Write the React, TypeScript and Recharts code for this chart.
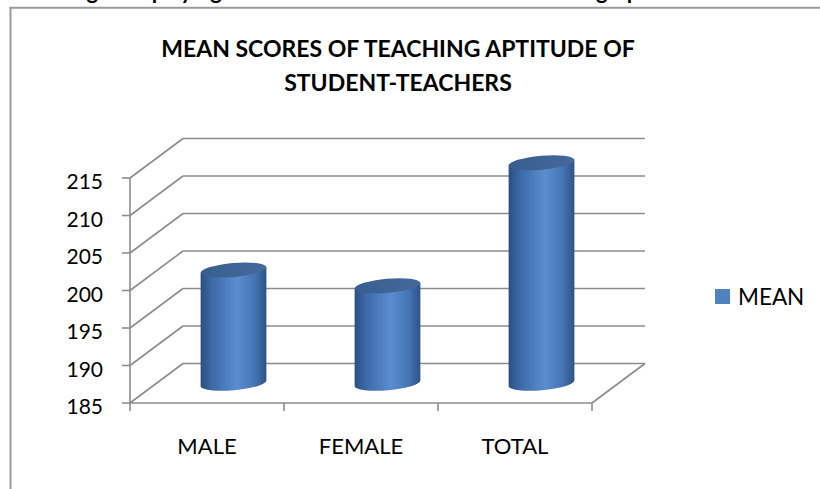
import React from "react";
import { BarChart, Bar, XAxis, YAxis, CartesianGrid, Legend } from "recharts";

const categories = ["MALE", "FEMALE", "TOTAL"];
const meanValues = [200.1, 198.0, 214.4];
const yTicks = [185, 190, 195, 200, 205, 210, 215];
const seriesName = "MEAN";
const titleLines = ["MEAN SCORES OF TEACHING APTITUDE OF", "STUDENT-TEACHERS"];

const data = categories.map((c, i) => ({ name: c, mean: meanValues[i] }));

const W = 820;
const H = 489;
const PLOT_L = 130;
const PLOT_R = 592;
const DX = 53;
const DY = -39.5;
const GRID = "#8c8c8c";
const FONT = "Lato, 'Open Sans', sans-serif";
const BAND = (PLOT_R - PLOT_L) / categories.length;

const GridLine = (props: any) => {
  const { x1, y1, x2 } = props;
  return (
    <g>
      <line x1={x1} y1={y1} x2={x1 + DX} y2={y1 + DY} stroke={GRID} strokeWidth={1.6} />
      <line x1={x1 + DX} y1={y1 + DY} x2={x2 + DX} y2={y1 + DY} stroke={GRID} strokeWidth={1.6} />
    </g>
  );
};

const YTick = (props: any) => {
  const { x, y, payload } = props;
  return (
    <g>
      <line x1={x - 8} y1={y} x2={x} y2={y} stroke={GRID} strokeWidth={1.6} />
      <text x={x - 27} y={y + 2.5} textAnchor="end" dominantBaseline="central" fontFamily={FONT} fontSize={21} fill="#000">
        {payload.value}
      </text>
    </g>
  );
};

const XTick = (props: any) => {
  const { x, y, payload, index } = props;
  const last = index === categories.length - 1;
  return (
    <g>
      <line x1={x - BAND / 2} y1={y} x2={x - BAND / 2} y2={y + 8} stroke={GRID} strokeWidth={1.6} />
      {last && (
        <>
          <line x1={x + BAND / 2} y1={y} x2={x + BAND / 2} y2={y + 8} stroke={GRID} strokeWidth={1.6} />
          <line x1={x + BAND / 2} y1={y} x2={x + BAND / 2 + DX} y2={y + DY} stroke={GRID} strokeWidth={1.6} />
        </>
      )}
      <text x={x} y={y + 42} textAnchor="middle" dominantBaseline="central" fontFamily={FONT} fontSize={22} fill="#000">
        {payload.value}
      </text>
    </g>
  );
};

const Cylinder = (props: any) => {
  const { x, y, width, height } = props;
  const cx = x + width / 2 + DX / 2;
  const top = y + DY / 2;
  const bot = y + height + DY / 2;
  const rx = width / 2;
  const ry = 7;
  const th = (5 * Math.PI) / 180;
  const ex = rx * Math.cos(th);
  const ey = rx * Math.sin(th);
  const body = `M ${cx - ex} ${top + ey} L ${cx - ex} ${bot + ey} A ${rx} ${ry} -5 0 0 ${cx + ex} ${bot - ey} L ${cx + ex} ${top - ey} Z`;
  return (
    <g>
      <path d={body} fill="url(#cylBody)" />
      <ellipse cx={cx} cy={top} rx={rx} ry={ry} fill="url(#cylTop)" transform={`rotate(-5 ${cx} ${top})`} />
    </g>
  );
};

const LegendContent = () => (
  <div style={{ display: "flex", alignItems: "center", fontFamily: FONT, fontSize: 22.5, color: "#000" }}>
    <div style={{ width: 15, height: 15, background: "#4f81bd", marginRight: 8 }} />
    <span>{seriesName}</span>
  </div>
);

export default function App() {
  return (
    <div style={{ position: "absolute", left: 0, top: 0, width: W, height: H, background: "#fff", overflow: "hidden" }}>
      <BarChart
        width={W}
        height={H}
        data={data}
        margin={{ top: 178, right: 228, bottom: 56, left: 70 }}
        barSize={66}
      >
        <defs>
          <linearGradient id="cylBody" x1="0" y1="0" x2="1" y2="0">
            <stop offset="0%" stopColor="#2b4f82" />
            <stop offset="18%" stopColor="#3d6aa8" />
            <stop offset="55%" stopColor="#5a8dd0" />
            <stop offset="82%" stopColor="#4675b5" />
            <stop offset="100%" stopColor="#2d5286" />
          </linearGradient>
          <linearGradient id="cylTop" x1="0" y1="0" x2="1" y2="0">
            <stop offset="0%" stopColor="#385e90" />
            <stop offset="100%" stopColor="#44699a" />
          </linearGradient>
        </defs>
        <text x={98} y={-1} textAnchor="end" fontFamily={FONT} fontWeight="bold" fontSize={22} fill="#000">Fig</text>
        <text x={124} y={-1} fontFamily={FONT} fontWeight="bold" fontSize={22} fill="#000">displaying the mean scores on the bar</text>
        <text x={596} y={-1} fontFamily={FONT} fontWeight="bold" fontSize={22} fill="#000">graph</text>
        <line x1={10.5} y1={7} x2={10.5} y2={H} stroke="#9a9a9a" strokeWidth={2} />
        <line x1={9.5} y1={7.7} x2={W} y2={7.7} stroke="#9a9a9a" strokeWidth={2} />
        {titleLines.map((t, i) => (
          <text key={t} x={398} y={56.5 + i * 34.5} textAnchor="middle" fontFamily={FONT} fontWeight="bold" fontSize={23} fill="#000">
            {t}
          </text>
        ))}
        <CartesianGrid vertical={false} horizontal={GridLine} syncWithTicks fill="none" />
        <XAxis
          dataKey="name"
          axisLine={{ stroke: GRID, strokeWidth: 1.6 }}
          tickLine={false}
          tickSize={0}
          tickMargin={0}
          tick={XTick}
          height={30}
          interval={0}
        />
        <YAxis
          domain={[185, 215]}
          ticks={yTicks}
          axisLine={{ stroke: GRID, strokeWidth: 1.6 }}
          tickLine={false}
          tickSize={0}
          tickMargin={0}
          tick={YTick}
          width={60}
          interval={0}
        />
        <Bar dataKey="mean" name={seriesName} shape={Cylinder} isAnimationActive={false} />
        <Legend
          layout="horizontal"
          verticalAlign="middle"
          align="center"
          content={LegendContent}
          wrapperStyle={{ position: "absolute", left: 715, top: 283, width: 100 }}
        />
      </BarChart>
    </div>
  );
}
